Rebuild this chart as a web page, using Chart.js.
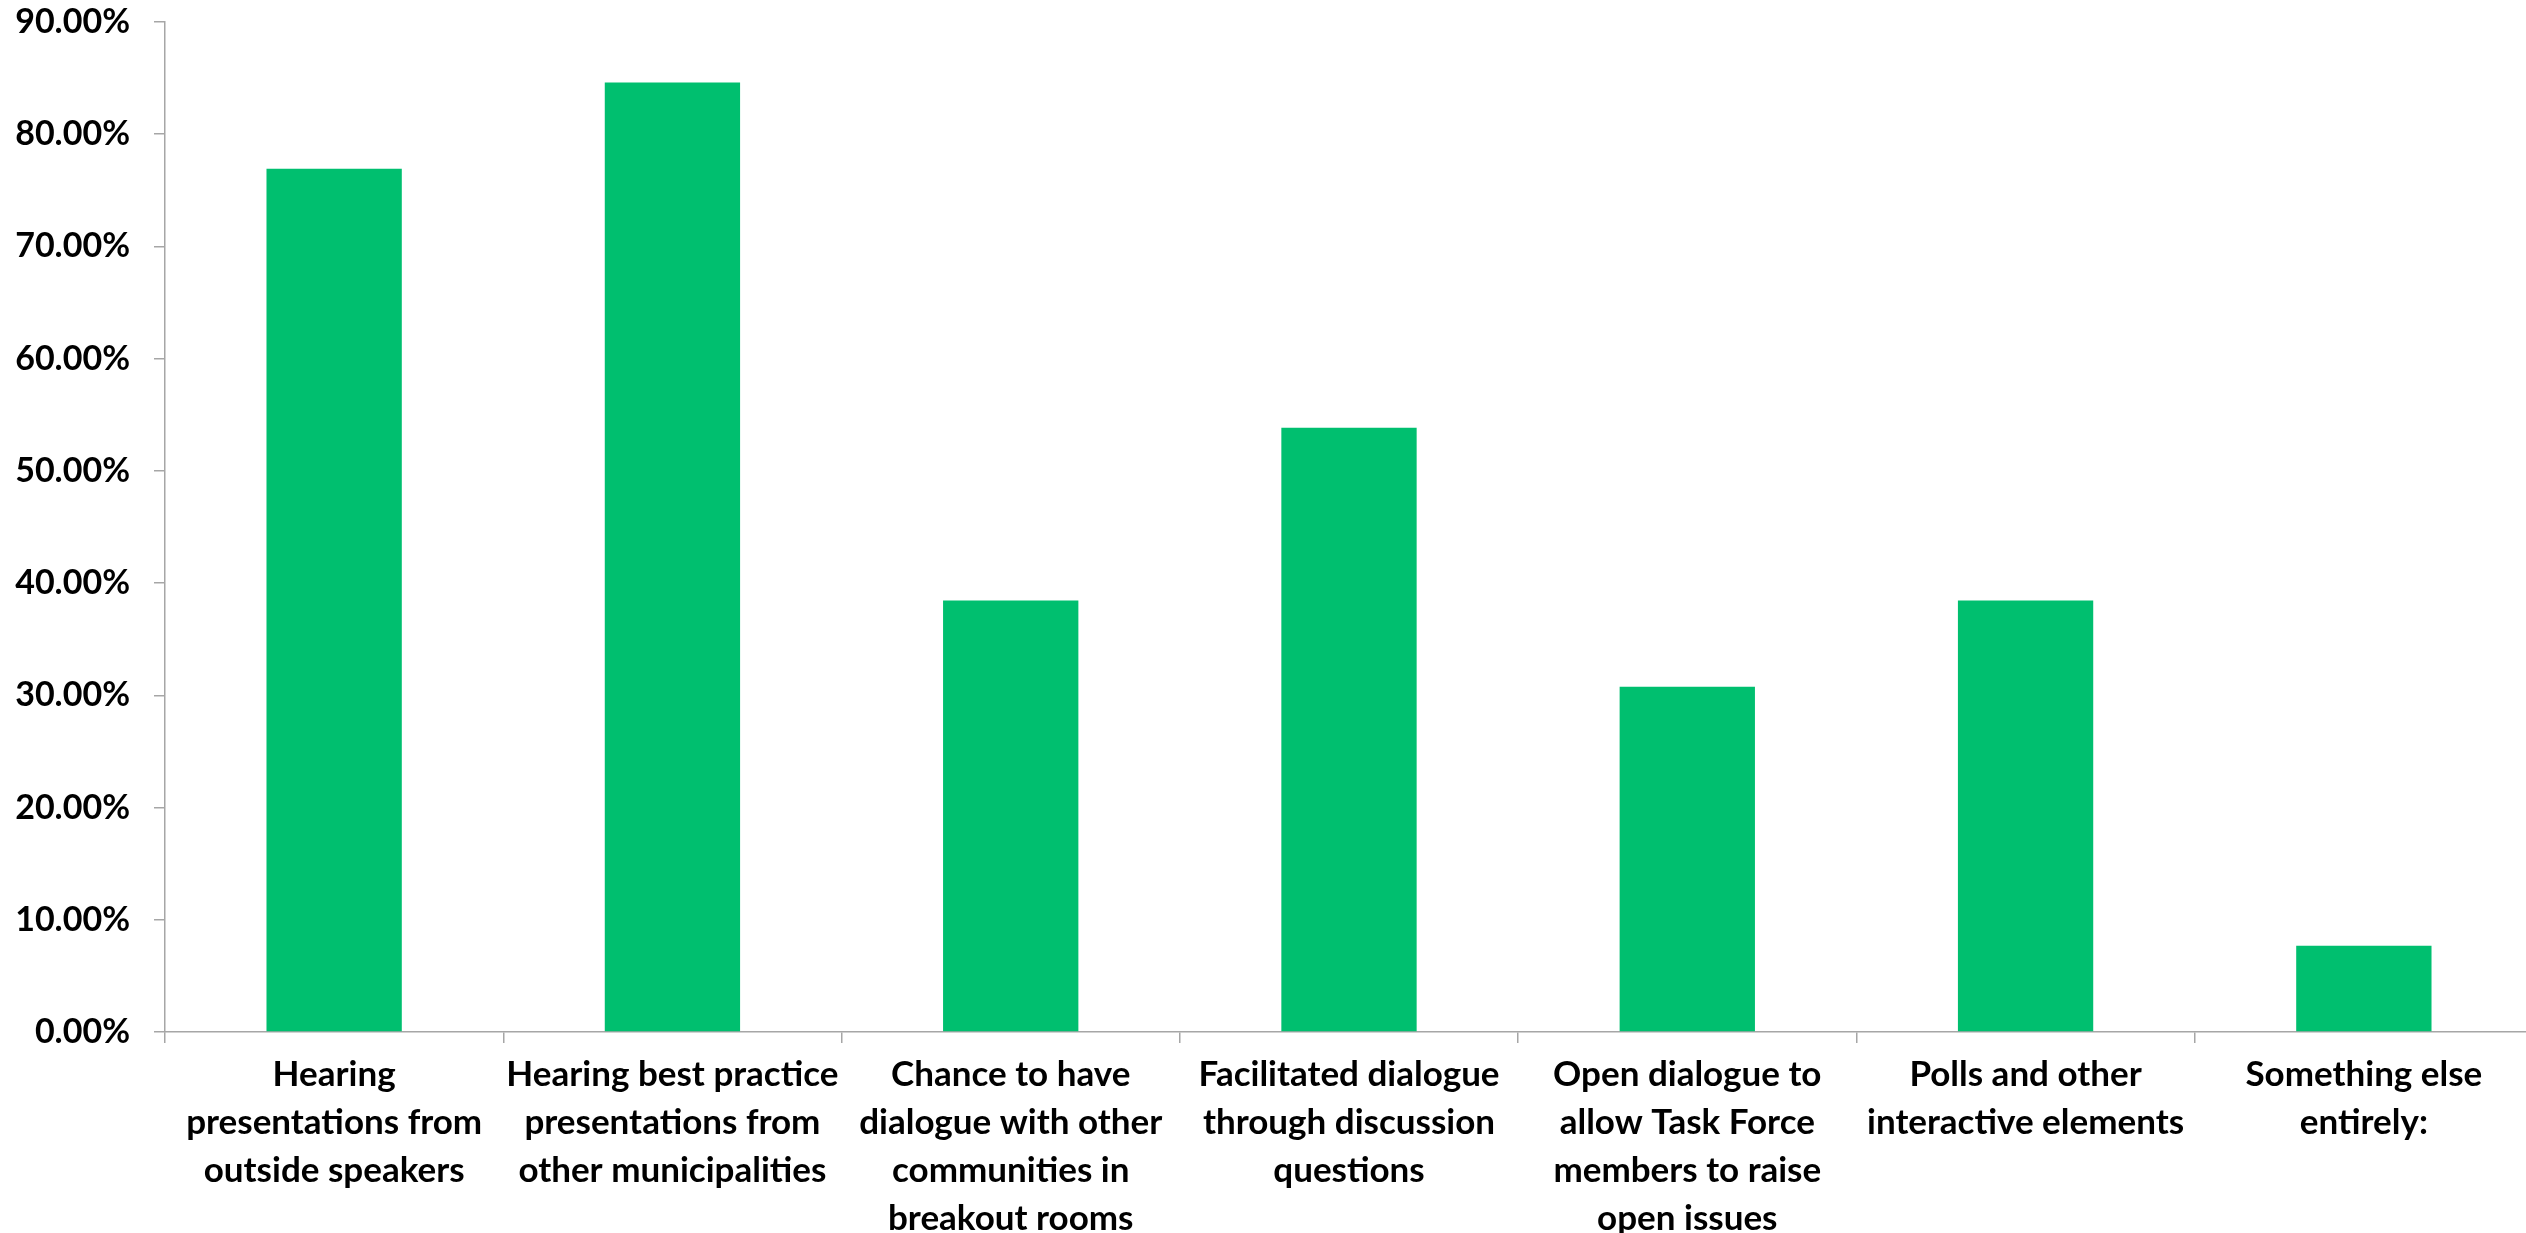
<!DOCTYPE html>
<html>
<head>
<meta charset="utf-8">
<script src="https://cdn.jsdelivr.net/npm/chart.js@4.4.1/dist/chart.umd.min.js"></script>
<style>
  html, body { margin: 0; padding: 0; background: #fff; overflow: hidden; }
  #wrap { width: 2540px; height: 1233px; position: relative; }
</style>
</head>
<body>
<div id="wrap"><canvas id="mainChart"></canvas></div>
<script>
// Data
const categories = [
  ["Hearing", "presentations from", "outside speakers"],
  ["Hearing best practice", "presentations from", "other municipalities"],
  ["Chance to have", "dialogue with other", "communities in", "breakout rooms"],
  ["Facilitated dialogue", "through discussion", "questions"],
  ["Open dialogue to", "allow Task Force", "members to raise", "open issues"],
  ["Polls and other", "interactive elements"],
  ["Something else", "entirely:"],
];
const responses = [76.92, 84.62, 38.46, 53.85, 30.77, 38.46, 7.69];
const yTicks = [0, 10, 20, 30, 40, 50, 60, 70, 80, 90];

const axisGray = "#a6a6a6";
const barGreen = "#00bf6f";

const initChart = () => {
  Chart.defaults.font.family = "Lato";
  Chart.defaults.color = "#000";

  const ctx = document.getElementById("mainChart").getContext("2d");
  new Chart(ctx, {
    type: "bar",
    data: {
      labels: categories,
      datasets: [
        {
          label: "Responses",
          data: responses,
          backgroundColor: barGreen,
          borderWidth: 0,
          barPercentage: 0.4,
          categoryPercentage: 1,
        },
      ],
    },
    options: {
      responsive: true,
      maintainAspectRatio: false,
      animation: false,
      layout: { padding: { top: 0, right: 7, bottom: 0, left: 0 } },
      plugins: {
        legend: { display: false },
        tooltip: { enabled: false },
      },
      scales: {
        x: {
          border: { color: axisGray, width: 1.5 },
          grid: {
            offset: true,
            drawOnChartArea: false,
            drawTicks: true,
            tickLength: 11,
            color: axisGray,
            lineWidth: 1.5,
          },
          ticks: {
            maxRotation: 0,
            autoSkip: false,
            padding: 8,
            font: { size: 35, weight: "bold", lineHeight: 1.37 },
          },
          afterFit: (scale) => {
            scale.height = 201;
          },
        },
        y: {
          min: 0,
          max: 90,
          border: { color: axisGray, width: 1.5 },
          grid: {
            drawOnChartArea: false,
            drawTicks: true,
            tickLength: 11,
            color: axisGray,
            lineWidth: 1.5,
          },
          afterBuildTicks: (scale) => {
            scale.ticks = yTicks.map((v) => ({ value: v }));
          },
          ticks: {
            padding: 24,
            font: { size: 34, weight: "bold" },
            callback: (v) => v.toFixed(2) + "%",
          },
          afterFit: (scale) => {
            scale.width = 165;
            // keep the 90% tick 22px from the top edge
            scale.paddingTop = 22;
            scale.paddingBottom = 0;
          },
        },
      },
    },
  });
};

window.addEventListener("DOMContentLoaded", initChart);
</script>
</body>
</html>
